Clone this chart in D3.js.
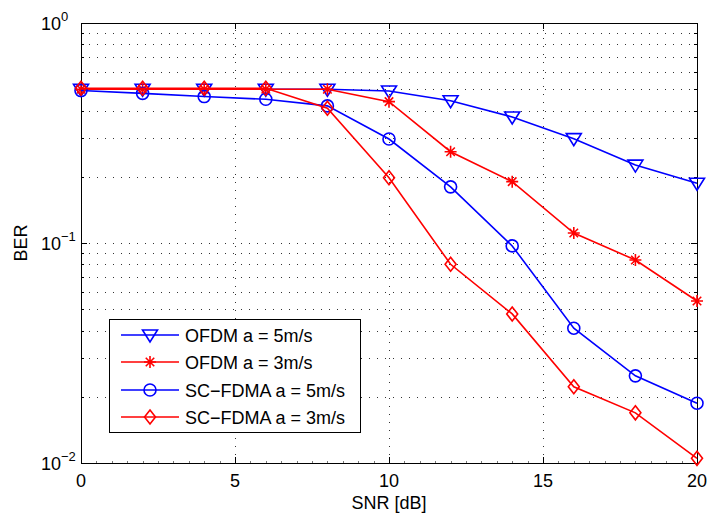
<!DOCTYPE html>
<html>
<head>
<meta charset="utf-8">
<script src="https://cdn.jsdelivr.net/npm/d3@7"></script>
<style>
body{margin:0;background:#fff;}
text{font-family:"Liberation Sans",Arial,sans-serif;fill:#000;}
</style>
</head>
<body>
<svg id="chart" width="707" height="515"></svg>
<script>
const snr = [0, 2, 4, 6, 8, 10, 12, 14, 16, 18, 20];
const ofdm5 = [0.5, 0.5, 0.5, 0.5, 0.5, 0.491, 0.443, 0.374, 0.298, 0.226, 0.187];
const ofdm3 = [0.5, 0.5, 0.5, 0.5, 0.5, 0.439, 0.26, 0.19, 0.111, 0.0837, 0.0545];
const scfdma5 = [0.493, 0.479, 0.463, 0.45, 0.42, 0.297, 0.18, 0.097, 0.041, 0.0249, 0.0187];
const scfdma3 = [0.505, 0.505, 0.505, 0.505, 0.41, 0.198, 0.080, 0.0476, 0.0222, 0.0169, 0.0105];
const seriesNames = ["OFDM a = 5m/s", "OFDM a = 3m/s", "SC\u2212FDMA a = 5m/s", "SC\u2212FDMA a = 3m/s"];
const xTicks = [0, 5, 10, 15, 20];
const yTickExps = [0, -1, -2];

const series = [
  {name: seriesNames[0], values: ofdm5, color: "#0000ff", marker: "tri"},
  {name: seriesNames[1], values: ofdm3, color: "#ff0000", marker: "star"},
  {name: seriesNames[2], values: scfdma5, color: "#0000ff", marker: "circle"},
  {name: seriesNames[3], values: scfdma3, color: "#ff0000", marker: "diamond"}
];

const L = 81, R = 697, T = 23, B = 463;
const svg = d3.select("#chart");
const x = d3.scaleLinear().domain([0, 20]).range([L, R]);
const y = d3.scaleLog().domain([0.01, 1]).range([B, T]);

// grid
const grid = svg.append("g").attr("stroke", "#333").attr("stroke-width", 1).attr("stroke-dasharray", "1,7");
const yGridVals = [];
for (let e = -2; e < 0; e++) for (let m = 1; m < 10; m++) yGridVals.push(m * Math.pow(10, e));
yGridVals.forEach(v => {
  if (v <= 0.0100001) return;
  grid.append("line").attr("x1", L).attr("x2", R).attr("y1", Math.round(y(v)) + 0.5).attr("y2", Math.round(y(v)) + 0.5);
});
xTicks.slice(1, -1).forEach(v => {
  grid.append("line").attr("y1", B).attr("y2", T).attr("x1", Math.round(x(v)) + 0.5).attr("x2", Math.round(x(v)) + 0.5);
});

// ticks
const tk = svg.append("g").attr("stroke", "#000").attr("stroke-width", 1);
xTicks.forEach(v => {
  const px = Math.round(x(v)) + 0.5;
  tk.append("line").attr("x1", px).attr("x2", px).attr("y1", B).attr("y2", B - 6);
  tk.append("line").attr("x1", px).attr("x2", px).attr("y1", T).attr("y2", T + 6);
});
for (let v = 0.5; v < 20; v += 0.5) {
  if (v % 5 === 0) continue;
  const px = Math.round(x(v)) + 0.5;
  tk.append("line").attr("x1", px).attr("x2", px).attr("y1", B).attr("y2", B - 2).attr("stroke", "#777");
}
yGridVals.concat([1]).forEach(v => {
  const py = Math.round(y(v)) + 0.5;
  const isMajor = Math.abs(Math.log10(v) - Math.round(Math.log10(v))) < 1e-6;
  const len = isMajor ? 6 : 3;
  tk.append("line").attr("x1", L).attr("x2", L + len).attr("y1", py).attr("y2", py);
  tk.append("line").attr("x1", R).attr("x2", R - len).attr("y1", py).attr("y2", py);
});

// frame
svg.append("rect").attr("x", L + 0.5).attr("y", T + 0.5).attr("width", R - L).attr("height", B - T)
  .attr("fill", "none").attr("stroke", "#000").attr("stroke-width", 1);

// tick labels
xTicks.forEach(v => {
  svg.append("text").attr("x", x(v)).attr("y", 487).attr("text-anchor", "middle")
    .attr("font-size", 18).text(v);
});
yTickExps.forEach(e => {
  const t = svg.append("text").attr("x", 41).attr("y", y(Math.pow(10, e)) + 7).attr("font-size", 18);
  t.append("tspan").text("10");
  t.append("tspan").attr("dy", -9).attr("font-size", 13).text(e < 0 ? "\u2212" + (-e) : String(e));
});

// axis labels
svg.append("text").attr("x", x(10)).attr("y", 509).attr("text-anchor", "middle").attr("font-size", 18).text("SNR [dB]");
svg.append("text").attr("transform", "translate(27,243) rotate(-90)").attr("text-anchor", "middle").attr("font-size", 18).text("BER");

// markers
function drawMarker(g, m, cx, cy, color) {
  if (m === "tri") {
    g.append("path").attr("d", `M${cx - 7.5},${cy - 5} L${cx + 7.5},${cy - 5} L${cx},${cy + 7} Z`)
      .attr("fill", "none").attr("stroke", color).attr("stroke-width", 1.6);
  } else if (m === "circle") {
    g.append("circle").attr("cx", cx).attr("cy", cy).attr("r", 6)
      .attr("fill", "none").attr("stroke", color).attr("stroke-width", 1.6);
  } else if (m === "diamond") {
    g.append("path").attr("d", `M${cx},${cy - 7} L${cx + 5.5},${cy} L${cx},${cy + 7} L${cx - 5.5},${cy} Z`)
      .attr("fill", "none").attr("stroke", color).attr("stroke-width", 1.6);
  } else if (m === "star") {
    const r = 6;
    let d = "";
    for (let k = 0; k < 4; k++) {
      const a = k * Math.PI / 4;
      d += `M${cx - r * Math.cos(a)},${cy - r * Math.sin(a)} L${cx + r * Math.cos(a)},${cy + r * Math.sin(a)} `;
    }
    g.append("path").attr("d", d).attr("stroke", color).attr("stroke-width", 1.6).attr("fill", "none");
  }
}

const line = d3.line().x((d, i) => x(snr[i])).y(d => y(d));
series.forEach(s => {
  const g = svg.append("g");
  g.append("path").datum(s.values).attr("d", line).attr("fill", "none")
    .attr("stroke", s.color).attr("stroke-width", 1.6);
  s.values.forEach((v, i) => drawMarker(g, s.marker, x(snr[i]), y(v), s.color));
});

// legend
const lg = svg.append("g");
lg.append("rect").attr("x", 109.5).attr("y", 319.5).attr("width", 251).attr("height", 113)
  .attr("fill", "#fff").attr("stroke", "#000").attr("stroke-width", 1);
const rowsY = [335, 362, 390, 417];
series.forEach((s, i) => {
  const ry = rowsY[i];
  lg.append("line").attr("x1", 121).attr("x2", 179).attr("y1", ry).attr("y2", ry)
    .attr("stroke", s.color).attr("stroke-width", 1.6);
  drawMarker(lg, s.marker, 150, ry, s.color);
  lg.append("text").attr("x", 185).attr("y", ry + 6.5).attr("font-size", 18).text(s.name);
});
</script>
</body>
</html>
